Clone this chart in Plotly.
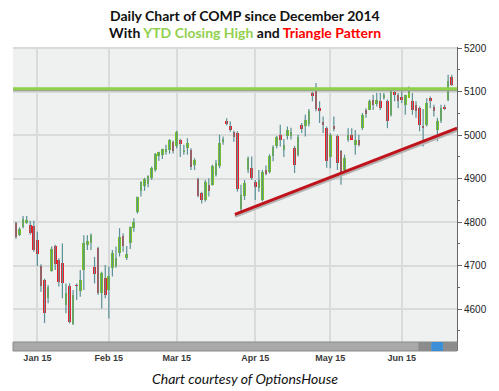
import plotly.graph_objects as go

dates = [
    "2014-12-23", "2014-12-24", "2014-12-26", "2014-12-29", "2014-12-30", "2014-12-31",
    "2015-01-02", "2015-01-05", "2015-01-06", "2015-01-07", "2015-01-08", "2015-01-09",
    "2015-01-12", "2015-01-13", "2015-01-14", "2015-01-15", "2015-01-16", "2015-01-20",
    "2015-01-21", "2015-01-22", "2015-01-23", "2015-01-26", "2015-01-27", "2015-01-28",
    "2015-01-29", "2015-01-30",
    "2015-02-02", "2015-02-03", "2015-02-04", "2015-02-05", "2015-02-06", "2015-02-09",
    "2015-02-10", "2015-02-11", "2015-02-12", "2015-02-13", "2015-02-17", "2015-02-18",
    "2015-02-19", "2015-02-20", "2015-02-23", "2015-02-24", "2015-02-25", "2015-02-26",
    "2015-02-27",
    "2015-03-02", "2015-03-03", "2015-03-04", "2015-03-05", "2015-03-06", "2015-03-09",
    "2015-03-10", "2015-03-11", "2015-03-12", "2015-03-13", "2015-03-16", "2015-03-17",
    "2015-03-18", "2015-03-19", "2015-03-20", "2015-03-23", "2015-03-24", "2015-03-25",
    "2015-03-26", "2015-03-27", "2015-03-30", "2015-03-31",
    "2015-04-01", "2015-04-02", "2015-04-06", "2015-04-07", "2015-04-08", "2015-04-09",
    "2015-04-10", "2015-04-13", "2015-04-14", "2015-04-15", "2015-04-16", "2015-04-17",
    "2015-04-20", "2015-04-21", "2015-04-22", "2015-04-23", "2015-04-24", "2015-04-27",
    "2015-04-28", "2015-04-29", "2015-04-30",
    "2015-05-01", "2015-05-04", "2015-05-05", "2015-05-06", "2015-05-07", "2015-05-08",
    "2015-05-11", "2015-05-12", "2015-05-13", "2015-05-14", "2015-05-15", "2015-05-18",
    "2015-05-19", "2015-05-20", "2015-05-21", "2015-05-22", "2015-05-26", "2015-05-27",
    "2015-05-28", "2015-05-29",
    "2015-06-01", "2015-06-02", "2015-06-03", "2015-06-04", "2015-06-05", "2015-06-08",
    "2015-06-09", "2015-06-10", "2015-06-11", "2015-06-12", "2015-06-15", "2015-06-16",
    "2015-06-17", "2015-06-18", "2015-06-19",
]

opens = [
    4797, 4771, 4788, 4799, 4794, 4790,
    4759, 4699, 4667, 4625, 4688, 4744, 4713, 4705, 4609, 4653, 4566, 4655, 4642, 4690,
    4747, 4751, 4697, 4740, 4636, 4671,
    4644, 4694, 4698, 4728, 4767, 4718, 4751, 4787, 4824, 4872, 4882, 4888, 4901, 4920,
    4951, 4955, 4961, 4966, 4985,
    4974, 4990, 4961, 4971, 4966, 4931, 4900, 4867, 4851, 4886, 4886, 4909, 4928, 4984,
    5033, 5020, 5007, 5005, 4830, 4860, 4920, 4925,
    4893, 4879, 4851, 4921, 4916, 4952, 4975, 5001, 4967, 4997, 4998, 4970, 4955, 5024,
    5020, 5025, 5096, 5105, 5063, 5030, 5016,
    4950, 5020, 4999, 4963, 4920, 4989, 5001, 4978, 4989, 5016, 5058, 5058, 5082, 5072,
    5078, 5085, 5078, 5047, 5100, 5093,
    5089, 5070, 5085, 5078, 5070, 5062, 5022, 5024, 5085, 5066, 5012, 5032, 5066, 5082,
    5135,
]
highs = [
    4801, 4788, 4814, 4814, 4803, 4803,
    4778, 4703, 4670, 4655, 4744, 4748, 4717, 4751, 4659, 4659, 4644, 4659, 4690, 4770,
    4770, 4774, 4720, 4743, 4686, 4701,
    4698, 4736, 4744, 4786, 4774, 4745, 4790, 4809, 4859, 4894, 4902, 4908, 4928, 4959,
    4962, 4969, 4978, 4991, 4988,
    5010, 4992, 4978, 4993, 4970, 4947, 4902, 4870, 4897, 4901, 4932, 4943, 5001, 4997,
    5039, 5032, 5010, 5009, 4886, 4897, 4951, 4951,
    4897, 4920, 4920, 4930, 4956, 4977, 4998, 5024, 4991, 5020, 5017, 4975, 5001, 5028,
    5047, 5060, 5100, 5120, 5078, 5043, 5020,
    5005, 5043, 5001, 4966, 4955, 5016, 5016, 5012, 5001, 5051, 5062, 5082, 5093, 5097,
    5097, 5097, 5082, 5105, 5101, 5097,
    5105, 5093, 5112, 5097, 5078, 5066, 5060, 5085, 5089, 5070, 5040, 5070, 5070, 5139,
    5139,
]
lows = [
    4761, 4768, 4786, 4796, 4771, 4732,
    4699, 4640, 4568, 4613, 4686, 4690, 4652, 4625, 4590, 4567, 4563, 4621, 4628, 4644,
    4736, 4736, 4659, 4632, 4601, 4625,
    4578, 4675, 4695, 4721, 4732, 4713, 4738, 4778, 4820, 4859, 4872, 4880, 4897, 4916,
    4941, 4945, 4955, 4957, 4958,
    4970, 4950, 4955, 4955, 4920, 4920, 4857, 4843, 4847, 4859, 4884, 4905, 4924, 4978,
    5022, 5008, 4985, 4870, 4825, 4851, 4913, 4897,
    4851, 4870, 4848, 4908, 4912, 4940, 4970, 4974, 4950, 4990, 4990, 4913, 4951, 5005,
    4997, 5020, 5078, 5055, 5028, 5005, 4925,
    4924, 5009, 4920, 4886, 4916, 4985, 4993, 4955, 4974, 5012, 5040, 5058, 5058, 5066,
    5058, 5082, 5016, 5043, 5078, 5062,
    5074, 5047, 5097, 5047, 5040, 5009, 4974, 5020, 5062, 5043, 4986, 5028, 5058, 5078,
    5113,
]
closes = [
    4765, 4785, 4806, 4805, 4776, 4736,
    4727, 4652, 4590, 4650, 4737, 4704, 4663, 4659, 4636, 4571, 4632, 4653, 4667, 4751,
    4757, 4771, 4681, 4636, 4683, 4632,
    4676, 4728, 4717, 4765, 4744, 4727, 4788, 4801, 4857, 4893, 4899, 4906, 4924, 4956,
    4961, 4968, 4969, 4988, 4964,
    5008, 4980, 4966, 4983, 4927, 4942, 4859, 4850, 4893, 4871, 4929, 4937, 4983, 4992,
    5025, 5011, 4995, 4876, 4863, 4891, 4947, 4901,
    4880, 4898, 4916, 4911, 4951, 4973, 4996, 4988, 4977, 5011, 5008, 4932, 4995, 5014,
    5035, 5056, 5092, 5060, 5055, 5024, 4941,
    5001, 5015, 4936, 4916, 4947, 5001, 4989, 4989, 4978, 5047, 5049, 5078, 5070, 5080,
    5062, 5093, 5032, 5105, 5093, 5078,
    5080, 5093, 5101, 5058, 5055, 5024, 5018, 5074, 5079, 5055, 5032, 5062, 5062, 5124,
    5116,
]

month_starts = ["2015-01-02", "2015-02-02", "2015-03-02", "2015-04-01", "2015-05-01", "2015-06-01"]
month_labels = ["Jan 15", "Feb 15", "Mar 15", "Apr 15", "May 15", "Jun 15"]

ytd_closing_high = 5107
trend_points_idx = [61.3, 123.5]
trend_points_val = [4818, 5016]

UP = "#7cc41f"
DOWN = "#ee1c24"
WICK = "#5b9296"

idx = list(range(len(dates)))

fig = go.Figure()

# wicks
wx, wy = [], []
for i, lo, hi in zip(idx, lows, highs):
    wx += [i, i, None]
    wy += [lo, hi, None]
fig.add_trace(go.Scatter(x=wx, y=wy, mode="lines", line=dict(color=WICK, width=1.2),
                         hoverinfo="skip", showlegend=False))

# bodies
base = [min(o, c) for o, c in zip(opens, closes)]
height = [max(abs(c - o), 1.8) for o, c in zip(opens, closes)]
colors = [UP if c >= o else DOWN for o, c in zip(opens, closes)]
fig.add_trace(go.Bar(x=idx, y=height, base=base, marker=dict(color=colors, line=dict(width=0)),
                     width=0.75, showlegend=False,
                     customdata=list(zip(dates, opens, highs, lows, closes)),
                     hovertemplate="%{customdata[0]}<br>O %{customdata[1]}<br>H %{customdata[2]}"
                                   "<br>L %{customdata[3]}<br>C %{customdata[4]}<extra></extra>"))

# trend line with shadow
fig.add_trace(go.Scatter(x=trend_points_idx, y=[v - 5 for v in trend_points_val], mode="lines",
                         line=dict(color="#b4b4b4", width=3), hoverinfo="skip", showlegend=False))
fig.add_trace(go.Scatter(x=trend_points_idx, y=trend_points_val, mode="lines",
                         line=dict(color="#c0141c", width=3), hoverinfo="skip", showlegend=False))

# YTD closing high line with shadow
fig.add_shape(type="line", xref="paper", x0=0, x1=1, yref="y",
              y0=ytd_closing_high - 3.2, y1=ytd_closing_high - 3.2,
              line=dict(color="#9c9c9c", width=2.5))
fig.add_shape(type="line", xref="paper", x0=0, x1=1, yref="y",
              y0=ytd_closing_high, y1=ytd_closing_high,
              line=dict(color="#8fd14a", width=3))

# scrollbar decoration at bottom of the plot
sb_h = 9 / 304
fig.add_shape(type="rect", xref="paper", yref="paper", x0=0, x1=1, y0=0, y1=sb_h,
              fillcolor="#a9a9a9", line=dict(color="#8a8a8a", width=1), layer="above")
fig.add_shape(type="rect", xref="paper", yref="paper", x0=0.913, x1=0.942, y0=0, y1=sb_h,
              fillcolor="#8c8c8c", line=dict(width=0), layer="above")
fig.add_shape(type="rect", xref="paper", yref="paper", x0=0.942, x1=0.969, y0=0, y1=sb_h,
              fillcolor="#3a8fd6", line=dict(width=0), layer="above")
fig.add_shape(type="rect", xref="paper", yref="paper", x0=0.969, x1=1.0, y0=0, y1=sb_h,
              fillcolor="#8c8c8c", line=dict(width=0), layer="above")

tickvals = [dates.index(d) for d in month_starts]

fig.update_layout(
    width=499, height=391,
    margin=dict(l=13, r=36, t=47, b=40),
    paper_bgcolor="white",
    plot_bgcolor="#eff0f0",
    bargap=0,
    showlegend=False,
    xaxis=dict(range=[-0.83, 123.48], tickvals=tickvals, ticktext=month_labels,
               showgrid=True, gridcolor="#d9dbdb", gridwidth=1.5, zeroline=False,
               showline=False, ticks="",
               tickfont=dict(family="Liberation Sans", size=9, color="#3a3a3a", weight="bold"),
               fixedrange=True),
    yaxis=dict(side="right", range=[4503.4, 5202.9], tick0=4500, dtick=100,
               showgrid=True, gridcolor="#d9dbdb", gridwidth=1.5, zeroline=False,
               showline=True, linecolor="#666", linewidth=1,
               ticks="outside", ticklen=4, tickcolor="#666",
               minor=dict(dtick=50, ticks="outside", ticklen=2, tickcolor="#666", showgrid=False),
               tickfont=dict(family="Liberation Sans", size=10, color="#222"),
               fixedrange=True),
    annotations=[
        dict(text="<b>Daily Chart of COMP since December 2014</b>", xref="paper", yref="paper",
             x=0.522, y=1.105, showarrow=False, xanchor="center", yanchor="middle",
             font=dict(family="Lato", size=14, color="#111")),
        dict(text="<b>With <span style='color:#92d050'>YTD Closing High</span> and "
                  "<span style='color:#ff0000'>Triangle Pattern</span></b>",
             xref="paper", yref="paper", x=0.522, y=1.049, showarrow=False,
             xanchor="center", yanchor="middle", font=dict(family="Lato", size=14, color="#111")),
        dict(text="<i>Chart courtesy of OptionsHouse</i>", xref="paper", yref="paper",
             x=0.522, y=-0.092, showarrow=False, xanchor="center", yanchor="middle",
             font=dict(family="Lato", size=14, color="#111")),
    ],
)

fig.write_html("out.html", config={"displayModeBar": False},
               post_script="document.body.style.margin='0';document.body.style.overflow='hidden';")
